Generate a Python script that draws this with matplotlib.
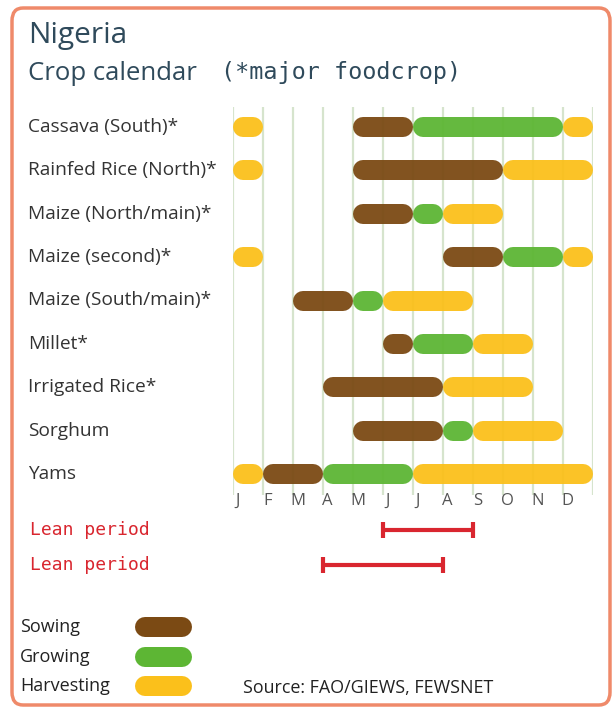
import matplotlib
matplotlib.use('Agg')
import matplotlib.pyplot as plt
import matplotlib.patches as patches
from matplotlib.transforms import blended_transform_factory
import matplotlib as mpl

mpl.rcParams['font.family'] = ['Open Sans', 'DejaVu Sans']

# ------------------------------------------------------- #
# data: months are 1..12, (start, end) inclusive

crops = ['Cassava (South)*', 'Rainfed Rice (North)*', 'Maize (North/main)*',
         'Maize (second)*', 'Maize (South/main)*', 'Millet*',
         'Irrigated Rice*', 'Sorghum', 'Yams']

sowing = [[(5, 6)], [(5, 9)], [(5, 6)], [(8, 9)], [(3, 4)],
          [(6, 6)], [(4, 7)], [(5, 7)], [(2, 3)]]
growing = [[(7, 11)], [], [(7, 7)], [(10, 11)], [(5, 5)],
           [(7, 8)], [], [(8, 8)], [(4, 6)]]
harvesting = [[(1, 1), (12, 12)], [(1, 1), (10, 12)], [(8, 9)], [(1, 1), (12, 12)],
              [(6, 8)], [(9, 10)], [(8, 10)], [(9, 11)], [(1, 1), (7, 12)]]

month_labels = ['J', 'F', 'M', 'A', 'M', 'J', 'J', 'A', 'S', 'O', 'N', 'D']

lean_labels = ['Lean period', 'Lean period']
lean_start = [6, 4]
lean_end = [8, 7]

stage_names = ['Sowing', 'Growing', 'Harvesting']
stage_colors = ['#7b4a14', '#5db634', '#fbc01b']

# ------------------------------------------------------- #

W, H = 616, 709
fig = plt.figure(figsize=(W / 100, H / 100), dpi=100)
fig.patch.set_facecolor('white')

def fx(x):
    return x / W

def fy(y):
    return 1 - y / H

# rounded orange frame
frame = patches.FancyBboxPatch((fx(12), fy(705)), fx(598), 697 / H,
                               boxstyle='round,pad=0,rounding_size=0.018',
                               transform=fig.transFigure, fc='none',
                               ec='#ef8a6a', lw=2.5, zorder=-10)
fig.patches.append(frame)

title_col = '#2f4a5b'
fig.text(fx(28), fy(35), 'Nigeria', fontsize=21.5, color=title_col, va='center')
fig.text(fx(28), fy(73), 'Crop calendar', fontsize=18.5, color=title_col, va='center')
fig.text(fx(221), fy(73), '(*major foodcrop)', fontsize=16.8, color=title_col,
         va='center', family='DejaVu Sans Mono')

# main calendar axes: x in months (0..12), y in rows
row_px = 43.375
ax = fig.add_axes([fx(233), fy(580), fx(360), 475 / H])
ax.set_xlim(0, 12)
ax.set_ylim((580 - 127) / row_px, -22 / row_px)
ax.axis('off')

ax.vlines(range(13), -0.45, 8.48, color='#d6e4cd', lw=1.6, zorder=1)

bar_lw = 14.4            # points, ~20 px
cap = 10 / 30            # round cap radius in months

for i, crop in enumerate(crops):
    for stage, color in zip([sowing, growing, harvesting], stage_colors):
        for s, e in stage[i]:
            ax.plot([s - 1 + cap, e - cap], [i, i], color=color, lw=bar_lw,
                    solid_capstyle='round', alpha=0.95, zorder=3)

lab_tr = blended_transform_factory(fig.transFigure, ax.transData)
for i, crop in enumerate(crops):
    ax.text(fx(28), i, crop, transform=lab_tr, fontsize=13.8, color='#333333',
            va='center', ha='left')

month_y = (501 - 127) / row_px
for m, lab in enumerate(month_labels):
    ax.text(m + 0.15, month_y, lab, fontsize=12, color='#555555',
            ha='center', va='center')

# lean periods
for j, (lab, s, e) in enumerate(zip(lean_labels, lean_start, lean_end)):
    y = (530 + 35 * j - 127) / row_px
    ax.plot([s - 1, e], [y, y], color='#d9262f', lw=3, marker='|',
            markersize=11, mew=3, solid_capstyle='butt', zorder=3)
    ax.text(fx(30), y, lab, transform=lab_tr, fontsize=13, color='#d9262f',
            va='center', ha='left', family='DejaVu Sans Mono')

# legend
lg = fig.add_axes([fx(18), fy(701), fx(190), 89 / H])
lg.set_xlim(0, 190)
lg.set_ylim(2.508, -0.508)
lg.axis('off')
for k, (name, color) in enumerate(zip(stage_names, stage_colors)):
    lg.text(2, k, name, fontsize=13, color='#222222', va='center', ha='left')
    lg.plot([127, 164], [k, k], color=color, lw=bar_lw, solid_capstyle='round')

fig.text(fx(243), fy(688), 'Source: FAO/GIEWS, FEWSNET', fontsize=12.9,
         color='#222222', va='center')

fig.savefig('out.png', dpi=100, facecolor='white')
